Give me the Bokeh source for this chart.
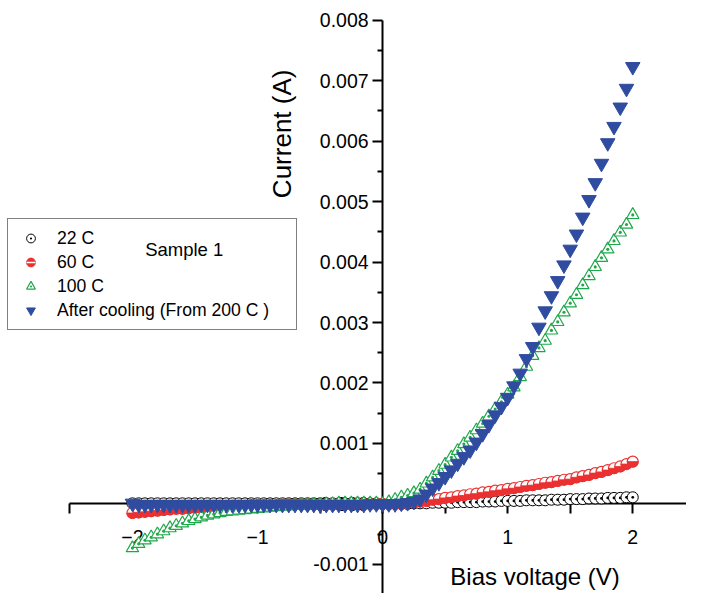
import numpy as np
from bokeh.plotting import figure
from bokeh.models import (LinearAxis, FixedTicker, PrintfTickFormatter, Range1d,
                          Legend, LegendItem, Label)
from bokeh.embed import file_html
from bokeh.resources import INLINE

# ---------------- data ----------------
voltage = np.linspace(-2.0, 2.0, 81)

cur_22C = [
    0.00001, 0.00001, 0.00001, 0.00001, 0.00001, 0.00001, 0.00001, 0.00001, 0.00001, 0.00001,
    0.00001, 0.00001, 0.00001, 0.00001, 0.00001, 0.00001, 0.00001, 0.00001, 0.00001, 0.00001,
    0.00001, 0.00001, 0.00001, 0.00001, 0.00001, 0.00001, 0.00001, 0.00001, 0.00001, 0.00001,
    0.00001, 0.00001, 0.00001, 0.00001, 0.00001, 0.00001, 0.00001, 0.00001, 0.00001, 0.00001,
    0.00000,
    0.00000, 0.00000, 0.00000, 0.00000, 0.00001, 0.00001, 0.00001, 0.00002, 0.00002, 0.00002,
    0.00002, 0.00003, 0.00003, 0.00003, 0.00003, 0.00004, 0.00004, 0.00004, 0.00005, 0.00005,
    0.00005, 0.00005, 0.00006, 0.00006, 0.00006, 0.00006, 0.00007, 0.00007, 0.00007, 0.00008,
    0.00008, 0.00008, 0.00009, 0.00009, 0.00009, 0.00010, 0.00010, 0.00010, 0.00011, 0.00011,
]

cur_60C = [
    -0.00015, -0.00014, -0.00013, -0.00012, -0.00011, -0.00010, -0.00009, -0.00008, -0.00008, -0.00007,
    -0.00006, -0.00006, -0.00005, -0.00005, -0.00004, -0.00004, -0.00003, -0.00003, -0.00003, -0.00002,
    -0.00002, -0.00002, -0.00002, -0.00002, -0.00001, -0.00001, -0.00001, -0.00001, -0.00001, -0.00001,
    -0.00001, -0.00001, -0.00001, -0.00001, -0.00001, -0.00001, 0.00000, 0.00000, 0.00000, 0.00000,
    0.00000,
    0.00000, 0.00001, 0.00001, 0.00002, 0.00003, 0.00004, 0.00005, 0.00007, 0.00008, 0.00010,
    0.00011, 0.00013, 0.00014, 0.00016, 0.00017, 0.00019, 0.00020, 0.00022, 0.00023, 0.00025,
    0.00026, 0.00028, 0.00030, 0.00031, 0.00033, 0.00035, 0.00036, 0.00038, 0.00040, 0.00041,
    0.00044, 0.00046, 0.00048, 0.00051, 0.00053, 0.00056, 0.00059, 0.00062, 0.00066, 0.00070,
]

cur_100C = [
    -0.00073, -0.00066, -0.00060, -0.00055, -0.00050, -0.00045, -0.00040, -0.00036, -0.00032, -0.00028,
    -0.00025, -0.00022, -0.00019, -0.00017, -0.00015, -0.00013, -0.00012, -0.00011, -0.00010, -0.00009,
    -0.00008, -0.00007, -0.00006, -0.00005, -0.00004, -0.00004, -0.00003, -0.00002, -0.00002, -0.00001,
    -0.00001, 0.00000, 0.00000, 0.00001, 0.00001, 0.00001, 0.00001, 0.00001, 0.00001, 0.00001,
    0.00000,
    0.00003, 0.00007, 0.00011, 0.00014, 0.00018, 0.00024, 0.00034, 0.00044, 0.00055, 0.00065,
    0.00077, 0.00088, 0.00099, 0.00110, 0.00122, 0.00133, 0.00145, 0.00157, 0.00169, 0.00181,
    0.00193, 0.00210, 0.00227, 0.00245, 0.00258, 0.00270, 0.00287, 0.00301, 0.00317, 0.00332,
    0.00346, 0.00362, 0.00377, 0.00392, 0.00407, 0.00421, 0.00435, 0.00449, 0.00462, 0.00478,
]

cur_after = [
    0.00001, -0.00001, -0.00001, -0.00001, -0.00001, -0.00001, -0.00001, -0.00001, -0.00001, -0.00001,
    -0.00001, -0.00001, -0.00001, -0.00001, -0.00001, -0.00001, -0.00001, -0.00001, -0.00001, -0.00001,
    -0.00001, -0.00001, -0.00001, -0.00001, -0.00001, -0.00001, -0.00001, -0.00001, -0.00001, -0.00001,
    -0.00001, -0.00001, -0.00001, -0.00001, -0.00001, -0.00001, -0.00001, -0.00001, 0.00000, 0.00000,
    0.00000,
    0.00000, 0.00000, 0.00001, 0.00002, 0.00004, 0.00008, 0.00016, 0.00026, 0.00035, 0.00045,
    0.00056, 0.00067, 0.00078, 0.00089, 0.00102, 0.00116, 0.00131, 0.00147, 0.00161, 0.00176,
    0.00195, 0.00216, 0.00240, 0.00260, 0.00292, 0.00319, 0.00344, 0.00369, 0.00395, 0.00421,
    0.00446, 0.00474, 0.00503, 0.00531, 0.00563, 0.00597, 0.00624, 0.00656, 0.00687, 0.00723,
]

series_labels = ["22 C", "60 C", "100 C", "After cooling (From 200 C )"]
x_ticks = [-2, -1, 0, 1, 2]
x_minor = [-2.5, -1.5, -0.5, 0.5, 1.5, 2.5]
y_ticks = [-0.001, 0.0, 0.001, 0.002, 0.003, 0.004, 0.005, 0.006, 0.007, 0.008]
y_minor = [-0.0015, -0.0005, 0.0005, 0.0015, 0.0025, 0.0035, 0.0045, 0.0055, 0.0065, 0.0075]

FONT = "Liberation Sans"
BLUE = "#2f4ca0"
GREEN = "#1ea84a"
RED = "#ea3030"

W, H = 686, 593
p = figure(width=W, height=H, output_backend="svg", toolbar_location=None,
           x_axis_type=None, y_axis_type=None,
           x_range=Range1d(-3.0547, 2.4297), y_range=Range1d(-0.001481, 0.008325),
           min_border=0, min_border_left=0, min_border_right=0,
           min_border_top=0, min_border_bottom=0)
p.outline_line_color = None
p.grid.visible = False
p.background_fill_color = "white"
p.border_fill_color = "white"

# axes crossing at the origin
xaxis = LinearAxis(fixed_location=0, bounds=(-2.5, 3.0),
                   ticker=FixedTicker(ticks=x_ticks, minor_ticks=x_minor))
yaxis = LinearAxis(fixed_location=0, bounds=(-0.0016, 0.008),
                   ticker=FixedTicker(ticks=y_ticks, minor_ticks=y_minor),
                   formatter=PrintfTickFormatter(format="%.3f"))
for ax in (xaxis, yaxis):
    ax.axis_line_width = 2
    ax.major_tick_line_width = 2
    ax.minor_tick_line_width = 2
    ax.major_tick_in = 0
    ax.minor_tick_in = 0
    ax.major_label_text_font = FONT
    ax.major_label_text_font_size = "19.5px"
    ax.major_label_text_color = "black"
    ax.level = "underlay"
xaxis.major_tick_out = 10
xaxis.minor_tick_out = 10
xaxis.major_label_standoff = 16
yaxis.major_tick_out = 10
yaxis.minor_tick_out = 5
yaxis.major_label_standoff = 4
p.add_layout(xaxis, "below")
p.add_layout(yaxis, "left")

# series
r22 = p.scatter(voltage, cur_22C, marker="circle_dot", size=11,
                fill_color="white", line_color="black", line_width=1)
r60a = p.scatter(voltage, cur_60C, marker="circle", size=11,
                 fill_color="white", line_color=RED, line_width=1.2)
r60b = p.wedge(voltage, cur_60C, radius=5.5, radius_units="screen",
               start_angle=np.pi, end_angle=2 * np.pi,
               fill_color=RED, line_color=RED, line_width=0.8)
r100 = p.scatter(voltage, cur_100C, marker="triangle_dot", size=12.5,
                 fill_color="white", line_color=GREEN, line_width=1.2)
raft = p.scatter(voltage, cur_after, marker="inverted_triangle", size=14.5,
                 fill_color=BLUE, line_color=BLUE, line_width=1)

# legend-only glyphs for the half-filled red circle (nothing drawn in the plot)
l60a = p.scatter([np.nan], [np.nan], marker="circle", size=10,
                 fill_color=RED, line_color=RED)
l60b = p.scatter([np.nan], [np.nan], marker="dash", size=7,
                 line_color="white", line_width=1.5)

legend = Legend(items=[
    LegendItem(label=series_labels[0], renderers=[r22]),
    LegendItem(label=series_labels[1], renderers=[l60a, l60b]),
    LegendItem(label=series_labels[2], renderers=[r100]),
    LegendItem(label=series_labels[3], renderers=[raft]),
], location=(7, 263))
legend.label_text_font = FONT
legend.label_text_font_size = "17.6px"
legend.label_text_color = "black"
legend.glyph_width = 29
legend.glyph_height = 22
legend.label_height = 22
legend.label_width = 231
legend.label_standoff = 12
legend.spacing = 2
legend.padding = 8
legend.margin = 0
legend.border_line_color = "black"
legend.border_line_width = 1
legend.background_fill_alpha = 0.0
p.add_layout(legend, "center")

p.add_layout(Label(x=-1.898, y=0.0042, text="Sample 1", text_font=FONT,
                   text_font_size="18.5px", text_align="left", text_baseline="middle",
                   text_color="black", level="overlay"))
p.add_layout(Label(x=-0.805, y=0.00612, text="Current (A)", angle=np.pi / 2,
                   text_font=FONT, text_font_size="26px", text_align="center",
                   text_baseline="middle", text_color="black", level="overlay"))
p.add_layout(Label(x=1.219, y=-0.001208, text="Bias voltage (V)",
                   text_font=FONT, text_font_size="24px", text_align="center",
                   text_baseline="middle", text_color="black", level="overlay"))

open("out.html", "w").write(file_html(p, INLINE))
